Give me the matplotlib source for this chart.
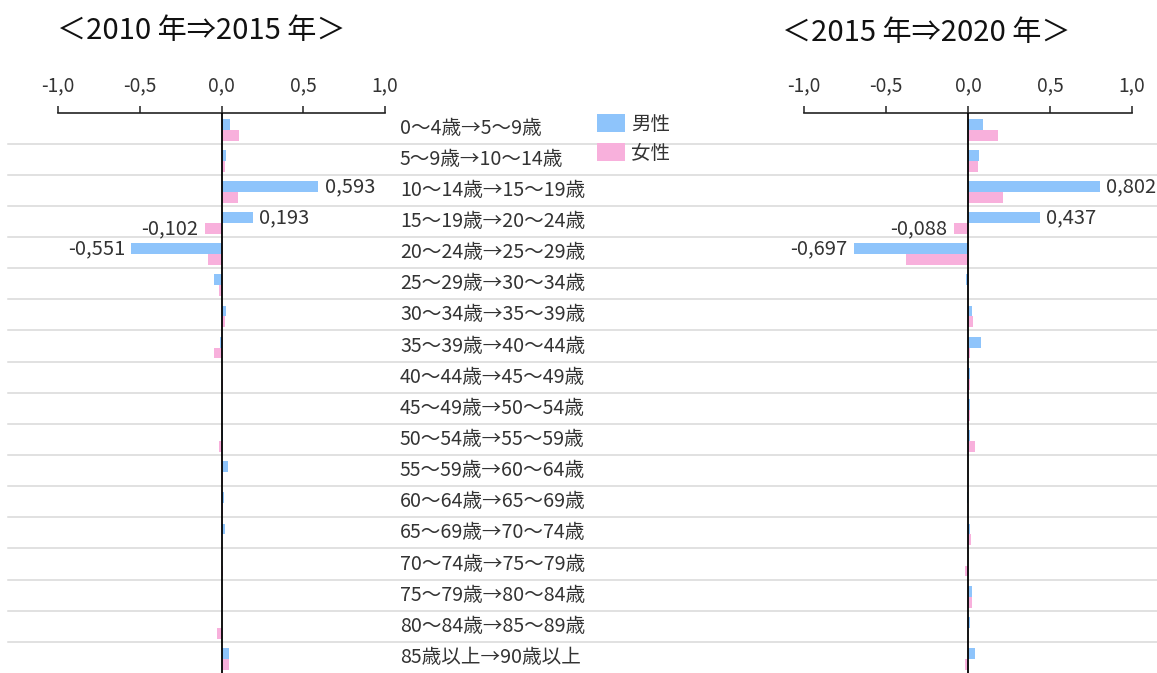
import matplotlib
matplotlib.use("Agg")
import matplotlib.pyplot as plt
import matplotlib.transforms as mtransforms
from matplotlib.patches import Patch

plt.rcParams['font.family'] = ['Noto Sans CJK JP', 'DejaVu Sans']

categories = [
    "0〜4歳→5〜9歳", "5〜9歳→10〜14歳", "10〜14歳→15〜19歳", "15〜19歳→20〜24歳",
    "20〜24歳→25〜29歳", "25〜29歳→30〜34歳", "30〜34歳→35〜39歳", "35〜39歳→40〜44歳",
    "40〜44歳→45〜49歳", "45〜49歳→50〜54歳", "50〜54歳→55〜59歳", "55〜59歳→60〜64歳",
    "60〜64歳→65〜69歳", "65〜69歳→70〜74歳", "70〜74歳→75〜79歳", "75〜79歳→80〜84歳",
    "80〜84歳→85〜89歳", "85歳以上→90歳以上",
]

male_1015 = [0.05, 0.03, 0.593, 0.193, -0.551, -0.048, 0.03, -0.012, 0.003, 0.012,
             0.01, 0.04, 0.015, 0.02, 0.002, 0.002, 0.002, 0.045]
female_1015 = [0.105, 0.02, 0.098, -0.102, -0.08, -0.014, 0.022, -0.043, 0.012, 0.003,
               -0.015, 0.01, 0.01, 0.005, 0.01, 0.012, -0.03, 0.045]

male_1520 = [0.092, 0.067, 0.802, 0.437, -0.697, -0.014, 0.025, 0.08, 0.012, 0.014,
             0.01, 0.002, -0.005, 0.01, 0.002, 0.027, 0.01, 0.041]
female_1520 = [0.185, 0.061, 0.216, -0.088, -0.38, 0.002, 0.033, 0.014, 0.014, 0.014,
               0.041, 0.002, 0.002, 0.02, -0.018, 0.027, 0.002, -0.018]

titles = ["＜2010 年⇒2015 年＞", "＜2015 年⇒2020 年＞"]
legend_labels = ["男性", "女性"]
xticks = [-1.0, -0.5, 0.0, 0.5, 1.0]
labeled_male = [2, 3, 4]
labeled_female = [3]

BLUE = "#8EC4FB"
PINK = "#F8B0DC"

W, H = 1157, 673
fig = plt.figure(figsize=(W / 100, H / 100), dpi=100)

top = 1 - 112.5 / H
axL = fig.add_axes([58 / W, 0.0, (385 - 58) / W, top])
axR = fig.add_axes([804 / W, 0.0, (1132 - 804) / W, top])

n = len(categories)
ypos = list(range(n))
bh = 0.35


def fmt(v):
    return f"{v:.3f}".replace('.', ',')


def draw(ax, male, female):
    ax.set_facecolor('none')
    ym = [y - 0.125 for y in ypos]
    yf = [y + 0.225 for y in ypos]
    ax.barh(ym, male, height=bh, color=BLUE, zorder=2)
    ax.barh(yf, female, height=bh, color=PINK, zorder=2)
    ax.axvline(0, color='black', lw=1.3, zorder=4)
    ax.set_xlim(-1, 1)
    ax.set_ylim(n - 0.5, -0.5)
    ax.set_yticks([])
    for s in ['left', 'right', 'bottom']:
        ax.spines[s].set_visible(False)
    ax.spines['top'].set_color('#222222')
    ax.spines['top'].set_linewidth(1.2)
    ax.xaxis.tick_top()
    ax.set_xticks(xticks)
    ax.set_xticklabels([f"{t:.1f}".replace('.', ',') for t in xticks])
    ax.tick_params(axis='x', direction='out', length=5, width=1.1, color='#222222',
                   labelsize=13.8, pad=7, labelcolor='#333333')
    for i in labeled_male:
        v = male[i]
        ax.annotate(fmt(v), (v, ym[i]), xytext=(4.5 if v > 0 else -4.5, 0),
                    textcoords='offset points', ha='left' if v > 0 else 'right',
                    va='center', fontsize=14.5, color='#333333')
    for i in labeled_female:
        v = female[i]
        ax.annotate(fmt(v), (v, yf[i]), xytext=(4.5 if v > 0 else -4.5, 0),
                    textcoords='offset points', ha='left' if v > 0 else 'right',
                    va='center', fontsize=14.5, color='#333333')


draw(axL, male_1015, female_1015)
draw(axR, male_1520, female_1520)

# row separator lines spanning the figure width
tr = mtransforms.blended_transform_factory(fig.transFigure, axL.transData)
for i in range(n - 1):
    axL.plot([8 / W, 1.0], [i + 0.5, i + 0.5], transform=tr, color='#D9D9D9',
             lw=1.1, clip_on=False, zorder=0)

# category labels in the middle column
for i, c in enumerate(categories):
    axL.text(400 / W, ypos[i], c, transform=tr, ha='left', va='center',
             fontsize=14.1, color='#333333')

# titles
fig.text(57 / W, 1 - 31 / H, titles[0], fontsize=21, va='center', ha='left', color='#111111')
fig.text(782 / W, 1 - 33 / H, titles[1], fontsize=21, va='center', ha='left', color='#111111')

handles = [Patch(facecolor=BLUE, edgecolor='none'), Patch(facecolor=PINK, edgecolor='none')]
fig.legend(handles, legend_labels, loc='upper left', bbox_to_anchor=(597 / W, 1 - 114 / H),
           frameon=False, fontsize=14, handlelength=1.45, handleheight=1.05,
           handletextpad=0.3, labelspacing=0.4, borderpad=0, borderaxespad=0,
           labelcolor='#333333')

fig.savefig("out.png", dpi=100)
